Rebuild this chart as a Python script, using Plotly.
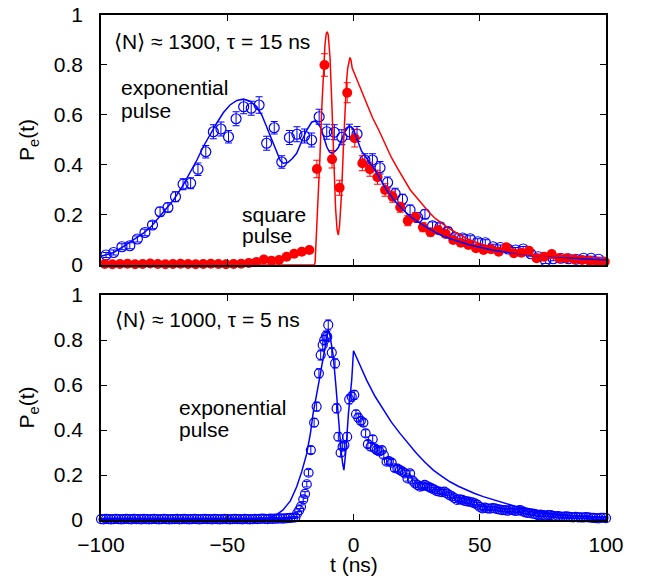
import plotly.graph_objects as go

# ---------------- top panel: <N> ~ 1300, tau = 15 ns ----------------
# exponential pulse data (blue open circles)
top_exp_t = [-98, -95, -91.7, -88.6, -85.6, -82.6, -79.6, -76.6, -73.5, -70.5,
             -67.5, -64.5, -61.6, -58.5, -55.5, -52.5, -49.5, -46.5, -43.5, -40.5,
             -37.4, -34.4, -31.4, -28.4, -25.4, -22.4, -19.4, -16.6, -13.6, -10.6,
             -7.6, -4.6, -1.6, 1.4, 4.5, 7.5, 10.5, 13.5, 16.5, 19.4,
             22.4, 25.4, 28.3, 31.3, 34.3, 37.3, 40.2, 43.2, 46.2, 49.2,
             52.2, 55.2, 58.2, 61.2, 64.2, 67.2, 70.2, 73.2, 76.1, 79.1,
             82.1, 85.1, 88.1, 91.1, 94.1, 97.1]
top_exp_p = [0.040, 0.050, 0.073, 0.077, 0.104, 0.130, 0.160, 0.213, 0.230, 0.273,
             0.323, 0.327, 0.383, 0.453, 0.533, 0.544, 0.513, 0.585, 0.633, 0.627,
             0.640, 0.487, 0.549, 0.412, 0.510, 0.523, 0.516, 0.500, 0.593, 0.533,
             0.531, 0.511, 0.533, 0.524, 0.420, 0.420, 0.389, 0.330, 0.285, 0.263,
             0.220, 0.190, 0.203, 0.157, 0.153, 0.135, 0.111, 0.108, 0.105, 0.093,
             0.089, 0.073, 0.070, 0.064, 0.060, 0.064, 0.045, 0.033, 0.016, 0.025,
             0.027, 0.025, 0.023, 0.027, 0.027, 0.023]
top_exp_err = [0.010, 0.010, 0.012, 0.012, 0.012, 0.013, 0.015, 0.018, 0.018, 0.020,
               0.022, 0.022, 0.025, 0.025, 0.028, 0.028, 0.025, 0.028, 0.028, 0.028,
               0.033, 0.028, 0.025, 0.025, 0.028, 0.030, 0.028, 0.028, 0.030, 0.030,
               0.030, 0.030, 0.030, 0.030, 0.025, 0.025, 0.025, 0.022, 0.022, 0.020,
               0.020, 0.020, 0.018, 0.015, 0.015, 0.015, 0.013, 0.013, 0.012, 0.012,
               0.012, 0.010, 0.010, 0.010, 0.010, 0.010, 0.010, 0.010, 0.010, 0.008,
               0.008, 0.008, 0.008, 0.008, 0.008, 0.008]

# square pulse data (red filled circles)
top_sq_t = [-98.5, -95.5, -92.5, -89.5, -86.5, -83.5, -80.5, -77.5, -74.5, -71.5,
            -68.5, -65.5, -62.5, -59.5, -56.5, -53.5, -50.5, -47.5, -44.5, -41.5,
            -38.5, -35.5, -32.5, -29.5, -26.5, -23.5, -20.5, -17.5, -14.5, -11.5,
            -8.5, -5.5, -2.5, 0.5, 3.5, 6.5, 9.5, 12.5, 15.5, 18.5,
            21.5, 24.5, 27.5, 30.5, 33.5, 36.5, 39.5, 42.5, 45.5, 48.5,
            51.5, 54.5, 57.5, 60.5, 63.5, 66.5, 69.5, 72.5, 75.5, 78.5,
            81.5, 84.5, 87.5, 90.5, 93.5, 96.5, 99.5]
top_sq_p = [0.004, 0.003, 0.004, 0.005, 0.003, 0.004, 0.006, 0.004, 0.003, 0.004,
            0.005, 0.004, 0.003, 0.004, 0.005, 0.004, 0.003, 0.004, 0.005, 0.008,
            0.012, 0.022, 0.017, 0.020, 0.033, 0.045, 0.053, 0.060, 0.384, 0.800,
            0.423, 0.309, 0.689, 0.507, 0.407, 0.383, 0.351, 0.300, 0.273, 0.231,
            0.177, 0.191, 0.151, 0.131, 0.140, 0.124, 0.100, 0.089, 0.080, 0.067,
            0.060, 0.063, 0.053, 0.071, 0.047, 0.049, 0.057, 0.027, 0.033, 0.044,
            0.027, 0.027, 0.023, 0.020, 0.017, 0.013, 0.013]
top_sq_err = [0.004, 0.004, 0.004, 0.004, 0.004, 0.004, 0.004, 0.004, 0.004, 0.004,
              0.004, 0.004, 0.004, 0.004, 0.004, 0.004, 0.004, 0.004, 0.004, 0.004,
              0.005, 0.006, 0.006, 0.006, 0.007, 0.008, 0.008, 0.008, 0.035, 0.045,
              0.035, 0.030, 0.040, 0.035, 0.030, 0.028, 0.028, 0.025, 0.022, 0.020,
              0.020, 0.018, 0.018, 0.015, 0.015, 0.013, 0.012, 0.012, 0.011, 0.010,
              0.010, 0.010, 0.010, 0.010, 0.010, 0.010, 0.010, 0.010, 0.010, 0.010,
              0.008, 0.008, 0.008, 0.008, 0.008, 0.008, 0.008]

# theory curves, top panel
top_exp_line_t = [-100, -95, -91.2, -87, -83.2, -80, -77.9, -74.5, -71.3, -68, -64.8, -62,
                  -59.5, -57, -54.2, -51.5, -48.9, -46.2, -43.6, -41, -38.3, -36.3, -34.4,
                  -32.3, -30.4, -29, -27.8, -26, -24.3, -22.5, -20.3, -18.5, -16.6, -15.2,
                  -13.3, -12, -10.6, -9.5, -8.6, -7.2, -6, -4.5, -3.4, -1.8, -1, 0, 1.5,
                  3.2, 5, 7.2, 9, 11.2, 13.1, 16, 19.7, 23, 26.3, 30, 33, 36, 39.5, 43,
                  46.1, 50, 55, 59.3, 65, 72.5, 80, 85.7, 92, 100]
top_exp_line_p = [0.035, 0.05, 0.073, 0.1, 0.127, 0.155, 0.18, 0.22, 0.26, 0.31, 0.367, 0.42,
                  0.473, 0.52, 0.567, 0.61, 0.64, 0.658, 0.664, 0.655, 0.633, 0.6, 0.553,
                  0.495, 0.447, 0.418, 0.407, 0.41, 0.425, 0.447, 0.5, 0.54, 0.571, 0.576,
                  0.555, 0.52, 0.473, 0.452, 0.447, 0.455, 0.47, 0.505, 0.533, 0.556, 0.553, 0.54, 0.5,
                  0.455, 0.43, 0.40, 0.37, 0.335, 0.3, 0.26, 0.22, 0.19, 0.167, 0.145, 0.127, 0.113, 0.1, 0.09,
                  0.08, 0.07, 0.06, 0.053, 0.045, 0.036, 0.03, 0.027, 0.023, 0.02]
top_sq_line_t = [-100, -15.5, -15.2, -14.5, -13.8, -13.3, -12.6, -12, -11.3, -10.8, -10.4, -10,
                 -9.3, -8.6, -8, -7.5, -7.1, -6.5, -6, -5.5, -4.7, -4, -3.4, -2.8, -2.3, -1.8,
                 -1.4, -1, -0.5, 0, 2.5, 5, 7.5, 10, 12.5, 15, 17.5, 20, 22.5, 25, 27.5, 30,
                 32.5, 35, 37.5, 40, 45, 50, 55, 60, 65, 70, 75, 80, 90, 100]
top_sq_line_p = [0, 0, 0.01, 0.15, 0.32, 0.43, 0.62, 0.76, 0.88, 0.925, 0.933, 0.92,
                 0.83, 0.65, 0.453, 0.31, 0.228, 0.14, 0.12, 0.16, 0.293, 0.47, 0.627, 0.73, 0.787, 0.82,
                 0.83, 0.82, 0.787, 0.775, 0.715, 0.65, 0.59, 0.54, 0.485, 0.43, 0.385, 0.34, 0.3, 0.27, 0.24, 0.21,
                 0.185, 0.165, 0.148, 0.133, 0.105, 0.085, 0.07, 0.058, 0.048, 0.04, 0.033, 0.027, 0.018, 0.012]

# ---------------- bottom panel: <N> ~ 1000, tau = 5 ns ----------------
bot_t = list(range(-100, -23)) + [
    -23, -22.3, -21.5, -20.8, -19.9, -19.2, -18.5, -17.8, -16.9, -15.6,
    -14.6, -13.7, -13.0, -12.2, -11.6, -10.9, -10.4, -10.0, -8.6, -7.3,
    -6.7, -6.0, -5.1, -4.3, -3.6, -2.5, -1.7, -0.7, 0.3, 1.0,
    1.9, 2.9, 3.9, 4.8, 5.7, 6.8, 7.6, 8.4, 9.2, 10.2,
    11.2, 12.0, 13.1, 14.0, 15.1, 16.4, 17.4, 18.4, 19.4, 20.4,
    21.4, 22.4, 23.4, 24.4, 25.4, 26.3, 27.3, 28.2, 29.2, 30.1, 31.0] + list(range(32, 101))
bot_p = [0.004, 0.003, 0.005, 0.004, 0.003, 0.004, 0.005, 0.004, 0.003, 0.004,
         0.005, 0.004, 0.003, 0.005, 0.004, 0.004, 0.003, 0.005, 0.004, 0.003,
         0.004, 0.005, 0.004, 0.003, 0.004, 0.005, 0.004, 0.003, 0.004, 0.004,
         0.005, 0.003, 0.004, 0.005, 0.004, 0.003, 0.004, 0.005, 0.004, 0.003,
         0.004, 0.005, 0.004, 0.004, 0.003, 0.005, 0.004, 0.003, 0.004, 0.005,
         0.004, 0.003, 0.004, 0.005, 0.004, 0.004, 0.003, 0.005, 0.004, 0.003,
         0.004, 0.005, 0.004, 0.005, 0.006, 0.005, 0.004, 0.006, 0.005, 0.006,
         0.006, 0.007, 0.006, 0.007, 0.008, 0.009, 0.010,
         0.012, 0.030, 0.044, 0.059, 0.092, 0.116, 0.159, 0.210, 0.311, 0.433,
         0.504, 0.652, 0.733, 0.778, 0.800, 0.818, 0.815, 0.867, 0.744, 0.696,
         0.496, 0.370, 0.299, 0.326, 0.333, 0.370, 0.536, 0.548, 0.556, 0.470,
         0.455, 0.441, 0.433, 0.385, 0.337, 0.326, 0.359, 0.319, 0.311, 0.305,
         0.311, 0.289, 0.259, 0.262, 0.255, 0.230, 0.228, 0.222, 0.215, 0.207,
         0.185, 0.207, 0.175, 0.163, 0.155, 0.148, 0.150, 0.156, 0.150, 0.145, 0.141,
         0.135, 0.128, 0.126, 0.124, 0.126, 0.118, 0.111, 0.105, 0.097, 0.089,
         0.092, 0.089, 0.085, 0.083, 0.081, 0.078, 0.074, 0.068, 0.058, 0.052,
         0.055, 0.052, 0.050, 0.053, 0.052, 0.048, 0.046, 0.044, 0.044, 0.041,
         0.045, 0.044, 0.040, 0.042, 0.044, 0.038, 0.034, 0.032, 0.030, 0.028,
         0.026, 0.022, 0.024, 0.022, 0.020, 0.022, 0.022, 0.018, 0.016, 0.017,
         0.015, 0.014, 0.016, 0.015, 0.013, 0.012, 0.014, 0.012, 0.012, 0.011,
         0.013, 0.012, 0.010, 0.009, 0.008, 0.007, 0.009, 0.010, 0.008]
bot_err = [0.003] * 77 + [
    0.004, 0.006, 0.007, 0.008, 0.010, 0.010, 0.012, 0.014, 0.016, 0.018,
    0.020, 0.020, 0.022, 0.022, 0.022, 0.022, 0.022, 0.022, 0.022, 0.020,
    0.020, 0.018, 0.016, 0.016, 0.016, 0.018, 0.020, 0.020, 0.020, 0.018,
    0.016, 0.016, 0.016, 0.016, 0.016, 0.016, 0.016, 0.016, 0.016, 0.016,
    0.014, 0.014, 0.014, 0.014, 0.014, 0.014, 0.014, 0.014, 0.014, 0.014,
    0.012, 0.012, 0.012, 0.012, 0.012, 0.012, 0.012, 0.012, 0.012, 0.012, 0.012] + \
    [0.010] * 19 + [0.008] * 25 + [0.006] * 25

bot_line_t = [-100, -40, -36, -34, -31, -28, -25, -22.5, -20.5, -18.5, -17, -16, -14.5,
              -13.3, -12.2, -11.3, -10.5, -10, -9.3, -8.5, -8, -7, -6, -5, -4.3, -3.8,
              -3, -2, -0.7, 0, 2.5, 5.2, 8.5, 11.8, 15, 18.4, 21.7, 25, 28.3, 31.6, 35,
              38.2, 41.5, 44.8, 48, 51.4, 54.7, 58, 61.3, 64.6, 71, 77.8, 84.4, 91, 100]
bot_line_p = [0, 0, 0.003, 0.008, 0.02, 0.044, 0.085, 0.148, 0.215, 0.296, 0.39, 0.474, 0.56,
              0.637, 0.71, 0.77, 0.82, 0.844, 0.82, 0.76, 0.726, 0.6, 0.444, 0.32, 0.25, 0.222,
              0.31, 0.474, 0.622, 0.752, 0.69, 0.622, 0.55, 0.489, 0.435, 0.385, 0.338, 0.296, 0.257, 0.222, 0.194,
              0.17, 0.15, 0.133, 0.118, 0.104, 0.092, 0.081, 0.07, 0.059, 0.043, 0.03, 0.022, 0.015, 0.01]

x_ticks = [-100, -50, 0, 50, 100]
y_ticks = [0, 0.2, 0.4, 0.6, 0.8, 1]

BLUE = "#0000ff"
RED = "#ff0000"
FONT = "Liberation Sans, Arial, sans-serif"

fig = go.Figure()

# top panel traces
fig.add_trace(go.Scatter(x=top_exp_t, y=top_exp_p, mode="markers", xaxis="x2", yaxis="y2",
                         marker=dict(symbol="circle-open", size=10, color=BLUE, line=dict(width=1.2, color=BLUE)),
                         error_y=dict(type="data", array=top_exp_err, color=BLUE, thickness=1, width=3.5),
                         cliponaxis=False, showlegend=False))
fig.add_trace(go.Scatter(x=top_sq_t, y=top_sq_p, mode="markers", xaxis="x2", yaxis="y2",
                         marker=dict(symbol="circle", size=10, color=RED),
                         error_y=dict(type="data", array=top_sq_err, color=RED, thickness=1, width=3.5),
                         cliponaxis=False, showlegend=False))
fig.add_trace(go.Scatter(x=top_exp_line_t, y=top_exp_line_p, mode="lines", xaxis="x2", yaxis="y2",
                         line=dict(color=BLUE, width=1.5), showlegend=False))
fig.add_trace(go.Scatter(x=top_sq_line_t, y=top_sq_line_p, mode="lines", xaxis="x2", yaxis="y2",
                         line=dict(color=RED, width=1.5), showlegend=False))

# bottom panel traces
fig.add_trace(go.Scatter(x=bot_t, y=bot_p, mode="markers", xaxis="x", yaxis="y",
                         marker=dict(symbol="circle-open", size=9, color=BLUE, line=dict(width=1.2, color=BLUE)),
                         error_y=dict(type="data", array=bot_err, color=BLUE, thickness=1, width=3),
                         cliponaxis=False, showlegend=False))
fig.add_trace(go.Scatter(x=bot_line_t, y=bot_line_p, mode="lines", xaxis="x", yaxis="y",
                         line=dict(color=BLUE, width=1.5), showlegend=False))

axis_common = dict(range=[-100, 100], tickvals=x_ticks, ticks="inside", ticklen=6, tickwidth=1.2,
                   tickcolor="black", showline=True, linecolor="black", linewidth=1.5, mirror="ticks",
                   showgrid=False, zeroline=False, automargin=False, ticklabeloverflow="allow",
                   tickfont=dict(family=FONT, size=21, color="black"))
yaxis_common = dict(range=[0, 1], tickvals=y_ticks, ticks="inside", ticklen=6, tickwidth=1.2,
                    tickcolor="black", showline=True, linecolor="black", linewidth=1.5, mirror="ticks",
                    showgrid=False, zeroline=False, automargin=False, ticklabeloverflow="allow",
                    tickfont=dict(family=FONT, size=21, color="black"),
                    ticklabelstandoff=12,
                    title=dict(text="P<sub>e</sub>(t)", font=dict(family=FONT, size=21, color="black"), standoff=13))

# the page body has an 8 px margin, so the figure is offset to land where the reference frame is
fig.update_layout(
    width=637, height=572,
    margin=dict(l=93, r=39, t=7, b=60, autoexpand=False),
    paper_bgcolor="white", plot_bgcolor="white",
    xaxis=dict(**axis_common, anchor="y", domain=[0, 1], ticklabelstandoff=5),
    xaxis2=dict(**axis_common, anchor="y2", domain=[0, 1], showticklabels=False, matches="x"),
    yaxis=dict(**yaxis_common, anchor="x", domain=[0, 0.4455]),
    yaxis2=dict(**yaxis_common, anchor="x2", domain=[0.505, 1]),
    font=dict(family=FONT, size=21, color="black"),
)

ann_font = dict(family=FONT, size=21, color="black")
annotations = [
    dict(x=-95.6, y=0.896, xref="x2", yref="y2", text="⟨N⟩ ≈ 1300, τ = 15 ns", xanchor="left"),
    dict(x=-92.9, y=0.708, xref="x2", yref="y2", text="exponential", xanchor="left"),
    dict(x=-92.9, y=0.616, xref="x2", yref="y2", text="pulse", xanchor="left"),
    dict(x=-45.0, y=0.200, xref="x2", yref="y2", text="square", xanchor="left"),
    dict(x=-45.0, y=0.116, xref="x2", yref="y2", text="pulse", xanchor="left"),
    dict(x=-95.2, y=0.893, xref="x", yref="y", text="⟨N⟩ ≈ 1000, τ = 5 ns", xanchor="left"),
    dict(x=-69.9, y=0.502, xref="x", yref="y", text="exponential", xanchor="left"),
    dict(x=-69.9, y=0.404, xref="x", yref="y", text="pulse", xanchor="left"),
    dict(x=0.5, y=-0.088, xref="paper", yref="paper", text="t (ns)", xanchor="center"),
]
for a in annotations:
    fig.add_annotation(**a, yanchor="middle", showarrow=False, font=ann_font)

fig.write_html("out.html")
